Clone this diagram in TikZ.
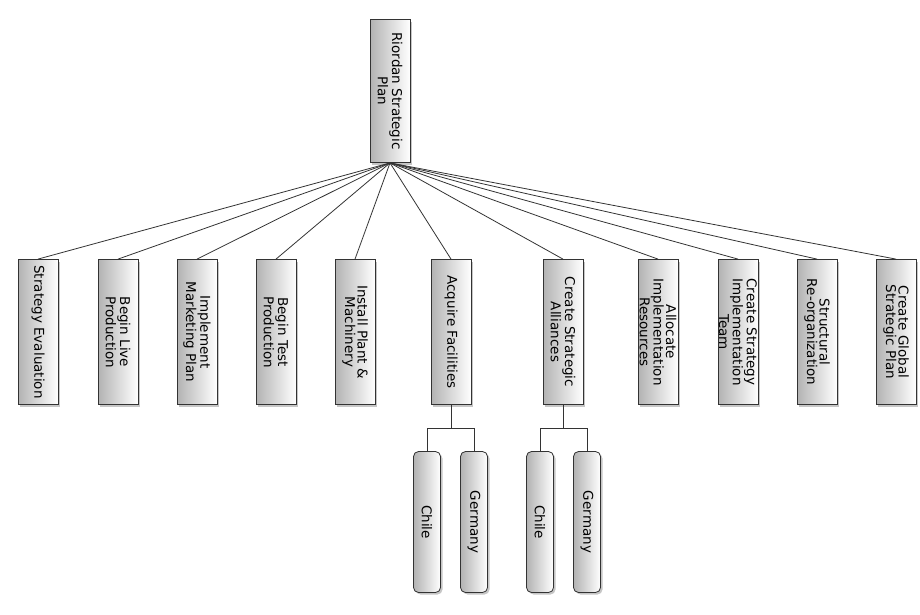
\documentclass[tikz,border=0pt]{standalone}
\usepackage{fontspec}
\setmainfont{DejaVu Sans}
\usetikzlibrary{shadows}
\begin{document}
\begin{tikzpicture}[x=1pt,y=-1pt,
  box/.style={draw=black!80,line width=0.8pt,left color=black!30,right color=white,
    minimum width=40pt,minimum height=145pt,inner sep=0pt,
    drop shadow={opacity=0.45,shadow xshift=2pt,shadow yshift=-2pt}},
  leaf/.style={box,rounded corners=5pt,minimum width=27pt,minimum height=141pt},
  txt/.style={rotate=-90,font=\fontsize{13.5}{12.5}\selectfont,align=center,inner sep=0pt},
  conn/.style={draw=black!80,line width=0.8pt}]
\useasboundingbox (0,0) rectangle (920,614);
\node[box,minimum height=143pt] (root) at (390,91) {};
\node[txt] at (390,91) {Riordan Strategic\\Plan};
\foreach \n/\x/\t in {a/38/Strategy Evaluation,b/118/{Begin Live\\Production},c/197/{Implement\\Marketing Plan},
  d/276/{Begin Test\\Production},e/355/{Install Plant \&\\Machinery},f/451/Acquire Facilities,
  g/563/{Create Strategic\\Alliances},h/658/{Allocate\\Implementation\\Resources},
  i/738/{Create Strategy\\Implementation\\Team},j/817/{Structural\\Re-organization},k/896/{Create Global\\Strategic Plan}}{
  \node[box] (\n) at (\x,332) {};
  \node[txt] at (\x,332) {\t};
  \draw[conn] (root.south) -- (\n.north);
}
\foreach \n/\x/\t in {f1/427/Chile,f2/474/Germany,g1/540/Chile,g2/587/Germany}{
  \node[leaf] (\n) at (\x,522) {};
  \node[txt] at (\x,522) {\t};
}
\draw[conn] (f.south) -- ++(0,23) -| (f1.north);
\draw[conn] (f.south) -- ++(0,23) -| (f2.north);
\draw[conn] (g.south) -- ++(0,23) -| (g1.north);
\draw[conn] (g.south) -- ++(0,23) -| (g2.north);
\end{tikzpicture}
\end{document}
